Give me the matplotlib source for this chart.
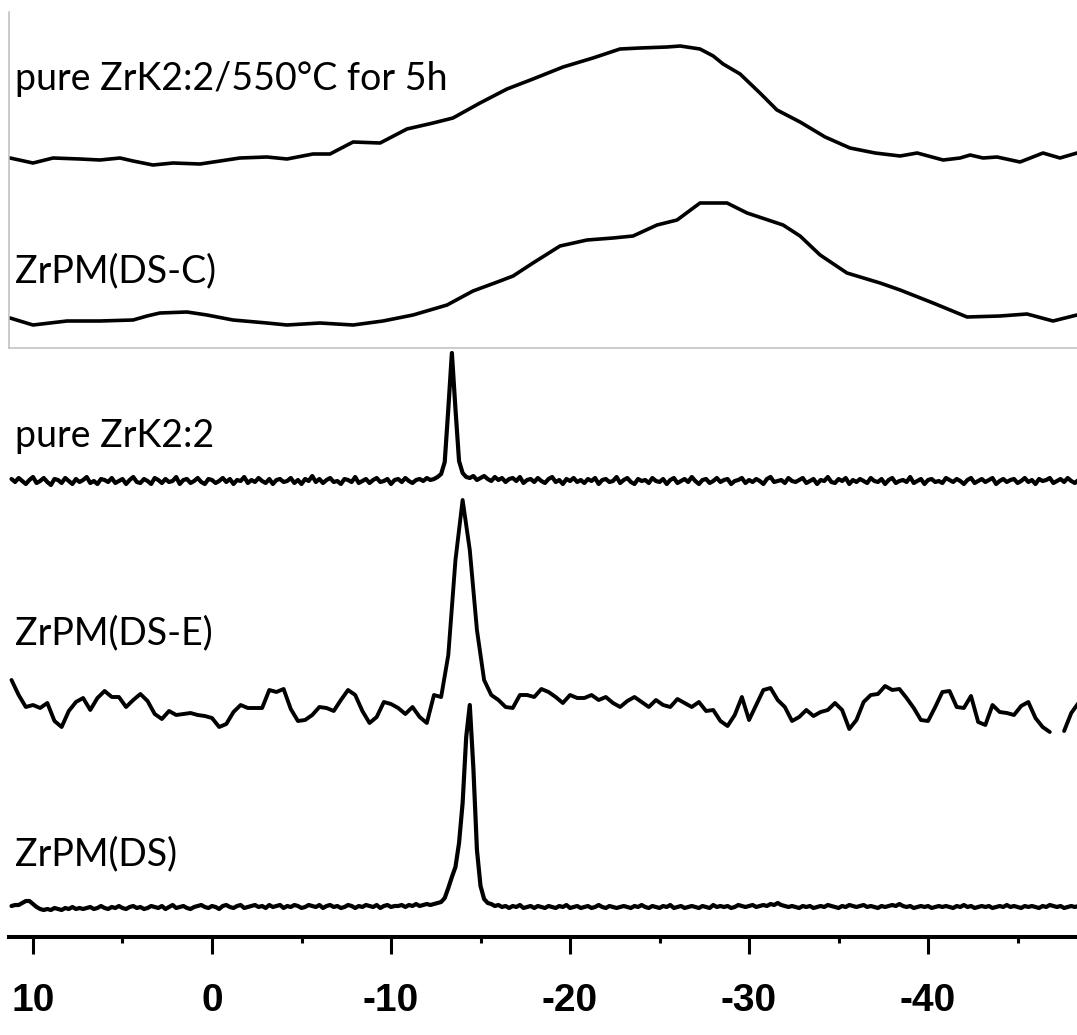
import numpy as np
import matplotlib.pyplot as plt
from matplotlib.lines import Line2D

# Chemical shift (ppm) and intensity
# broad spectra: hand-picked points
top_ppm = [11.28, 10.0, 8.88, 7.37, 6.26, 5.14, 4.41, 3.30, 2.18, 0.67,
           -0.45, -1.56, -3.07, -4.19, -5.64, -6.59, -7.88, -9.39, -10.89, -12.35,
           -13.46, -14.97, -16.48, -17.93, -19.61, -21.28, -22.79, -23.91, -25.42, -26.15,
           -27.26, -28.0, -28.55, -29.50, -30.61, -31.56, -32.85, -34.25, -35.64, -37.04, -38.44,
           -39.39, -40.84, -41.79, -42.35, -43.07, -43.85, -45.14, -46.42, -47.37, -48.32]
top_int = [0, -5, 0, -1, -2, 0, -3, -7, -5, -6,
           -3, 0, 1, -1, 4, 4, 16, 15, 29, 35,
           40, 55, 69, 79, 91, 100, 109, 110, 111, 112,
           109, 102, 94, 84, 65, 48, 36, 21, 10, 5, 2,
           5, -2, 0, 3, 0, 1, -4, 5, 0, 5]

dsc_ppm = [11.28, 10.0, 8.10, 6.26, 4.41, 3.63, 2.91, 1.40, 0.28, -1.17,
           -3.07, -4.19, -6.03, -7.88, -9.55, -11.23, -13.13, -14.58, -16.09, -16.82,
           -17.93, -19.44, -20.95, -22.40, -23.52, -24.86, -25.98, -27.26, -28.77, -29.89,
           -31.90, -32.85, -33.97, -35.47, -37.32, -38.44, -40.28, -42.18, -44.02, -45.53,
           -46.98, -48.32]
dsc_int = [2, -5, -1, -1, 0, 4, 7, 8, 5, 0,
           -3, -5, -3, -5, -1, 5, 15, 29, 39, 44,
           57, 74, 80, 82, 84, 95, 100, 117, 117, 107,
           95, 84, 65, 47, 37, 30, 17, 3, 4, 6,
           -1, 5]

# sharp spectra: sampled every 0.2 ppm from 11.2 to -48.4
k22_int = [2, -1, 3, 0, -3, 1, 4, -2, 0, 3, -1, -4, 2, 1, -2, 3, 0, -3, 2, -1,
           1, 4, -2, 0, -3, 2, 1, -1, 3, -2, 0, 2, -3, 1, 4, -1, -2, 2, 0, -3,
           3, 1, -2, 2, -1, 0, 4, -3, 1, 2, -2, 0, 3, -1, -3, 2, 1, -2, 0, 3,
           -1, 2, -3, 1, 0, 4, -2, 1, -1, 3, 0, -2, 2, -3, 1, 2, -1, 0, 3, -2,
           1, -3, 2, 0, 5, -1, 2, -2, 1, 3, -1, 0, -3, 2, 1, -1, 4, -2, 0, 2,
           -2, 1, 3, -1, 0, 2, -3, 1, 2, -1, 3, 0, -2, 1, 2, 0, 3, 1, 2, 4,
           7, 19, 72, 128, 72, 20, 8, 4, 3, 5, 1, 3, 5, 2, 0, 4, 1, 3, -1, 2,
           3, 0, 4, -2, 1, 2, -1, 3, 0, -2, 2, 4, -1, 1, -3, 2, 0, 3, -1, 1,
           -2, 2, 0, 3, -3, 1, 2, -1, 0, 4, -2, 1, 3, -1, -3, 2, 0, 1, -2, 3,
           0, -1, 2, -3, 1, 3, -2, 0, 2, -1, 4, 0, -3, 1, 2, -2, 0, 3, -1, 1,
           2, -3, 0, 1, 3, -2, 1, -1, 2, 0, -3, 2, 4, -1, 0, 1, -2, 3, 0, -1,
           1, 3, -2, 0, 2, -3, 1, 0, 4, -1, -2, 2, 0, 3, -3, 1, -1, 2, 0, -2,
           3, 0, -1, 2, -3, 1, 3, -2, 0, 1, -1, 4, -2, 0, 2, -3, 1, 2, -1, 0,
           -2, 3, 1, -1, 2, 0, -3, 1, 3, -2, 0, 2, -1, 1, 3, -3, 0, 2, -1, 1,
           2, -2, 0, 3, -1, 1, -3, 2, 0, 1, 3, -2, 0, 2, -1, 3, 0, -2, 1]

ds_int = [1, 2, 2, 4, 6, 6, 3, 0, -2, -3, -2, -3, -1, -2, -3, -1, -2, 0, -2, -1,
          -2, -1, 0, -2, -1, 1, -1, -2, 0, -1, 1, -1, -2, 0, 1, -1, 0, -2, -1, 1,
          0, -1, 1, -2, 0, 2, -1, 0, 1, -1, -2, 0, 1, 2, 0, -1, 1, 0, -2, 1,
          2, 0, -1, 1, 2, -1, 0, 1, 2, 0, 1, -1, 2, 0, 1, 2, -1, 1, 0, 2,
          1, -1, 0, 2, 1, 0, 2, -1, 1, 2, 0, 1, -1, 0, 2, 1, -1, 1, 0, 2,
          1, 0, 2, -1, 1, 2, 0, 1, 1, 2, 0, 2, 1, 3, 1, 2, 3, 2, 3, 4,
          5, 9, 19, 30, 40, 64, 104, 170, 202, 139, 57, 21, 8, 4, 3, 1, 2, 0, 1, -1,
          1, 0, 2, -1, 0, 1, -1, 1, 0, -1, 1, 0, -1, 1, 0, 2, -1, 0, 1, -1,
          0, 1, -1, 0, 2, 0, -1, 1, 0, -1, 0, 1, 0, -1, 1, 0, 2, 0, -1, 1,
          0, -1, 1, 0, 2, -1, 0, 1, -1, 0, 1, 0, -1, 1, 0, -1, 2, 0, 1, 0,
          1, -1, 0, 2, 1, 0, 1, 2, 0, 1, 2, 1, 3, 2, 4, 2, 1, 0, 1, 0,
          -1, 1, 0, 1, -1, 0, 1, 0, 2, 1, 0, -1, 1, 0, 2, 1, 0, 1, 2, 0,
          1, 0, -1, 1, 0, 1, 2, 1, 3, 1, 0, 1, -1, 0, 1, 0, 1, -1, 0, 1,
          0, 1, 0, -1, 1, 0, 2, 0, 1, -1, 0, 1, 0, 1, -1, 0, 1, 0, 2, 0,
          1, 0, -1, 1, 0, 1, 0, -1, 1, 0, 2, 1, 0, 1, -1, 0, 1, 0, 1]

# noisy spectrum: sampled every 0.4 ppm from 11.2 to -48.4 (nan = gap in trace)
dse_int = [30, 15, 3, 5, 2, 7, -11, -17, -1, 8,
           12, 0, 12, 19, 13, 13, 3, 10, 16, 9,
           -4, -9, -1, -5, -4, -3, -5, -6, -8, -17,
           -14, -2, 5, 2, 2, 2, 20, 18, 21, 1,
           -11, -10, -5, 3, 2, -1, 10, 20, 15, -1,
           -13, -7, 8, 6, 2, -4, 3, -7, -13, 15,
           13, 55, 150, 210, 160, 80, 30, 15, 10, 3,
           2, 15, 15, 13, 21, 18, 13, 7, 15, 12,
           12, 15, 10, 13, 7, 3, 9, 13, 8, 3,
           10, 5, 3, 11, 7, 3, 8, -1, 0, -11,
           -16, -5, 13, -10, 5, 20, 22, 10, 3, -11,
           -7, 0, -6, -2, 0, 7, 0, -19, -10, 8,
           15, 16, 24, 20, 21, 12, 2, -10, -11, 3,
           18, 19, 3, 2, 14, -12, -15, 5, -2, -3,
           -5, 4, 8, -8, -17, -22, np.nan, -21, -3, 7]

labels = ["pure ZrK2:2/550°C for 5h", "ZrPM(DS-C)", "pure ZrK2:2",
          "ZrPM(DS-E)", "ZrPM(DS)"]
major_ticks = [10, 0, -10, -20, -30, -40]
minor_ticks = [5, -5, -15, -25, -35, -45]

fine_ppm = np.linspace(11.2, -48.4, len(k22_int))
coarse_ppm = np.linspace(11.2, -48.4, len(dse_int))

# vertical offsets of each trace (stack layout, axis units = pixels above x axis)
offsets = [779, 617, 456, 227, 30]
label_y = [847, 655, 490, 293, 72]
AX_Y = 937  # pixel row of the x axis line

fig = plt.figure(figsize=(10.77, 10.35), dpi=100)
ax = fig.add_axes([9 / 1077, 1 - AX_Y / 1035, 1 - 9 / 1077, AX_Y / 1035])

traces = [(top_ppm, top_int, 2.6), (dsc_ppm, dsc_int, 2.6), (fine_ppm, k22_int, 3.0),
          (coarse_ppm, dse_int, 2.8), (fine_ppm, ds_int, 3.0)]
for (xs, ys, lw), off in zip(traces, offsets):
    ax.plot(xs, np.array(ys, dtype=float) + off, color="black", lw=lw,
            solid_joinstyle="round", solid_capstyle="round")

for txt, yy in zip(labels, label_y):
    ax.text(11.0, yy, txt, fontsize=27, family=["Lato", "DejaVu Sans"],
            va="baseline", ha="left")

ax.set_xlim(11.34, -48.32)
ax.set_ylim(0, AX_Y)

for s in ["top", "left", "right"]:
    ax.spines[s].set_visible(False)
ax.spines["bottom"].set_linewidth(2.9)
ax.set_yticks([])
ax.set_xticks(major_ticks)
ax.set_xticklabels([str(t) for t in major_ticks])
ax.set_xticks(minor_ticks, minor=True)
ax.tick_params(axis="x", which="major", direction="out", length=12, width=2.2,
               pad=21, labelsize=28)
ax.tick_params(axis="x", which="minor", direction="out", length=4, width=2.2)
for lab in ax.get_xticklabels():
    lab.set_fontfamily(["Liberation Sans", "DejaVu Sans"])
    lab.set_fontweight("bold")

# light grey frame around the upper two spectra
fig.add_artist(Line2D([9 / 1077, 9 / 1077], [1 - 12 / 1035, 1 - 348 / 1035],
                      color="#bdbdbd", lw=1.1, transform=fig.transFigure))
fig.add_artist(Line2D([9 / 1077, 1.0], [1 - 348 / 1035, 1 - 348 / 1035],
                      color="#bdbdbd", lw=1.1, transform=fig.transFigure))

plt.savefig("out.png", dpi=100)
